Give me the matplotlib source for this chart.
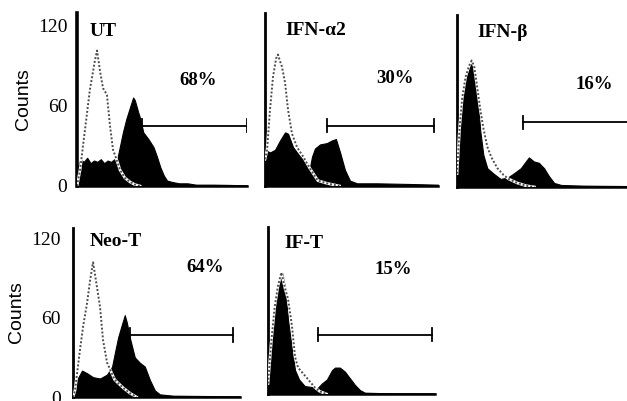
"""
Flow cytometry histograms: control (dotted outline) vs stained (filled) per treatment.
"""

import matplotlib

matplotlib.use("Agg")
import matplotlib.pyplot as plt

W, H = 627, 401
SERIF = "Liberation Serif"
SANS = "Liberation Sans"

# panel labels and gated percentages
NAMES = ["UT", "IFN-\u03b12", "IFN-\u03b2", "Neo-T", "IF-T"]
PERCENTS = ["68%", "30%", "16%", "64%", "15%"]
YTICKS = [0, 60, 120]

# channel (0-100) and counts
UT_CTRL_X = [0, 1.8, 4.7, 7.6, 10.6, 11.8, 13.5, 15.3, 17.6, 19.4, 21.2, 23.5, 25.3, 28.2, 31.2, 34.1, 37]
UT_CTRL_Y = [0, 12, 42, 72, 94, 101, 86, 73, 68, 45, 27, 19, 12, 6, 3, 1, 0]
UT_TRT_X = [0, 2, 4, 6, 8, 10, 12, 14, 16, 18, 20, 22, 23.5, 25, 27, 29, 31, 33, 34, 36, 37, 39,
            42, 45, 47, 49, 51, 53, 56, 60, 65, 70, 80, 90, 100]
UT_TRT_Y = [12, 20, 18, 21, 17, 19, 18, 20, 17, 19, 18, 20, 19, 28, 40, 50, 58, 66, 64, 55, 51, 40,
            35, 29, 22, 14, 8, 4, 3, 2, 2, 1, 1, 0.8, 0.5]

A2_CTRL_X = [0, 1.2, 2.9, 4.6, 6.4, 7.5, 8.7, 9.8, 11.6, 13.3, 15.6, 18.5, 22, 26, 30.6, 35.8, 43]
A2_CTRL_Y = [20, 27, 57, 81, 95, 98, 93, 89, 77, 57, 39, 29, 22, 13, 4, 2, 0]
A2_TRT_X = [0, 2.9, 5.8, 8.7, 11.6, 13.3, 16.2, 20.2, 24.3, 26, 27.2, 28.9, 31.8, 35.8, 38.7, 41,
            43.4, 46.2, 49.1, 53.2, 64.7, 83.8, 100]
A2_TRT_Y = [27, 25, 27, 34, 40, 39, 29, 22, 17, 14, 22, 28, 31, 32, 34, 35, 25, 12, 4, 2, 2, 1.5, 1]

B_CTRL_X = [0, 1.5, 3, 5, 7, 8.5, 10, 12, 13.5, 15.3, 17.6, 20, 23.5, 27, 30, 35, 40, 45]
B_CTRL_Y = [10, 44, 66, 82, 90, 94, 90, 72, 58, 44, 30, 22, 14, 9, 6, 3, 1, 0]
B_TRT_X = [0, 0.6, 2.9, 4.7, 6.5, 8.2, 9.4, 11.8, 13.5, 15.3, 17.6, 21.2, 25.3, 29.4, 32.9, 37.1,
           40, 41.8, 44.7, 47.6, 50.6, 53.5, 56.5, 60.6, 74, 100]
B_TRT_Y = [10, 39, 64, 81, 90, 95, 89, 69, 42, 24, 14, 10, 6, 7, 10, 14, 19, 22, 19, 18, 14, 8, 3,
           1.5, 1, 0.7]

NEO_CTRL_X = [0, 1.2, 4.2, 6, 8.4, 10.2, 12, 14.4, 16.2, 18, 20.4, 25, 30, 34, 38]
NEO_CTRL_Y = [0, 5, 36, 53, 71, 88, 102, 83, 68, 43, 26, 13, 7, 3, 0]
NEO_TRT_X = [0, 2.4, 5.4, 8.4, 12, 16.2, 20.4, 23.4, 25, 27, 29.3, 31, 32.3, 34, 37, 40, 43, 46,
             49, 52, 60, 100]
NEO_TRT_Y = [5, 13, 20, 18, 15, 14, 17, 23, 33, 45, 55, 62, 56, 45, 30, 26, 23, 13, 5, 2, 1, 0.5]

IFT_CTRL_X = [0, 2, 4, 6, 8, 10.2, 12, 14.4, 16.2, 18, 23.4, 28, 31, 35]
IFT_CTRL_Y = [8, 40, 66, 82, 92, 80, 72, 51, 28, 20, 12, 5, 2, 0]
IFT_TRT_X = [0, 2.4, 4.2, 6, 8.4, 10.2, 12, 14.4, 16.2, 18.6, 22, 28, 29.3, 32.3, 35.3, 38.3, 40.1,
             43, 46, 49, 52, 55, 58, 70, 100]
IFT_TRT_Y = [10, 43, 69, 84, 92, 81, 56, 33, 18, 11, 6, 5, 4, 8, 11, 18, 20, 20, 17, 12, 7, 3, 1,
             0.6, 0.5]

# gate bar: (start, end, level)
GATES = [(38, 100, 45), (35.8, 97.7, 45), (38.2, 103, 48), (34, 96, 47), (30, 98, 45)]

CTRL = [(UT_CTRL_X, UT_CTRL_Y), (A2_CTRL_X, A2_CTRL_Y), (B_CTRL_X, B_CTRL_Y),
        (NEO_CTRL_X, NEO_CTRL_Y), (IFT_CTRL_X, IFT_CTRL_Y)]
TRT = [(UT_TRT_X, UT_TRT_Y), (A2_TRT_X, A2_TRT_Y), (B_TRT_X, B_TRT_Y),
       (NEO_TRT_X, NEO_TRT_Y), (IFT_TRT_X, IFT_TRT_Y)]

# axes boxes in pixels: left, right, top, bottom ; plus y top limit
BOXES = [(77, 247, 13, 186, 129), (265, 438, 13, 186, 129), (457, 629, 15, 187, 128),
         (73, 240, 228, 397, 128), (268, 435, 227, 394, 126.5)]
# label positions in data coords: title (x, y), percent (x, y)
TITLE_POS = [(7.6, 115), (11.6, 116), (11.8, 115), (10, 118), (10, 114)]
PCT_POS = [(71, 79), (75, 80), (80, 76), (79, 98), (75, 94)]

fig = plt.figure(figsize=(W / 100, H / 100), dpi=100)

for i in range(5):
    l, r, t, b, ytop = BOXES[i]
    ax = fig.add_axes([l / W, 1 - b / H, (r - l) / W, (b - t) / H])
    ax.set_xlim(0, 100)
    ax.set_ylim(0, ytop)

    tx, ty = TRT[i]
    ax.fill_between(tx, ty, 0, color="black", lw=0.8, edgecolor="black")

    cx, cy = CTRL[i]
    ax.plot(cx, cy, color="white", lw=2.0, zorder=3)
    ax.plot(cx, cy, color="0.3", lw=1.4, ls=(0, (1, 1)), zorder=4)

    g0, g1, gy = GATES[i]
    ax.plot([g0, g1], [gy, gy], color="black", lw=1.3, zorder=5, clip_on=True)
    for gx in (g0, g1):
        ax.plot([gx, gx], [gy - 5, gy + 5], color="black", lw=1.3, zorder=5, clip_on=True)

    ax.text(*TITLE_POS[i], NAMES[i], family=SERIF, fontweight="bold", fontsize=14,
            ha="left", va="center")
    ax.text(*PCT_POS[i], PERCENTS[i], family=SERIF, fontweight="bold", fontsize=13.5,
            ha="center", va="center")

    for side in ("top", "right"):
        ax.spines[side].set_visible(False)
    ax.spines["left"].set_linewidth(2.6 if i == 0 else 2.0)
    ax.spines["bottom"].set_linewidth(1.8)
    ax.set_xticks([])
    if i in (0, 3):
        ax.set_yticks(YTICKS)
        ax.set_yticklabels([str(v) for v in YTICKS], family=SERIF, fontsize=14)
        ax.tick_params(axis="y", length=0, pad=7 if i == 0 else 9)
        ax.set_ylabel("Counts", family=SANS, fontsize=14, labelpad=4)
    else:
        ax.set_yticks([])
    ax.set_facecolor("none")

fig.savefig("out.png", dpi=100, facecolor="white")
